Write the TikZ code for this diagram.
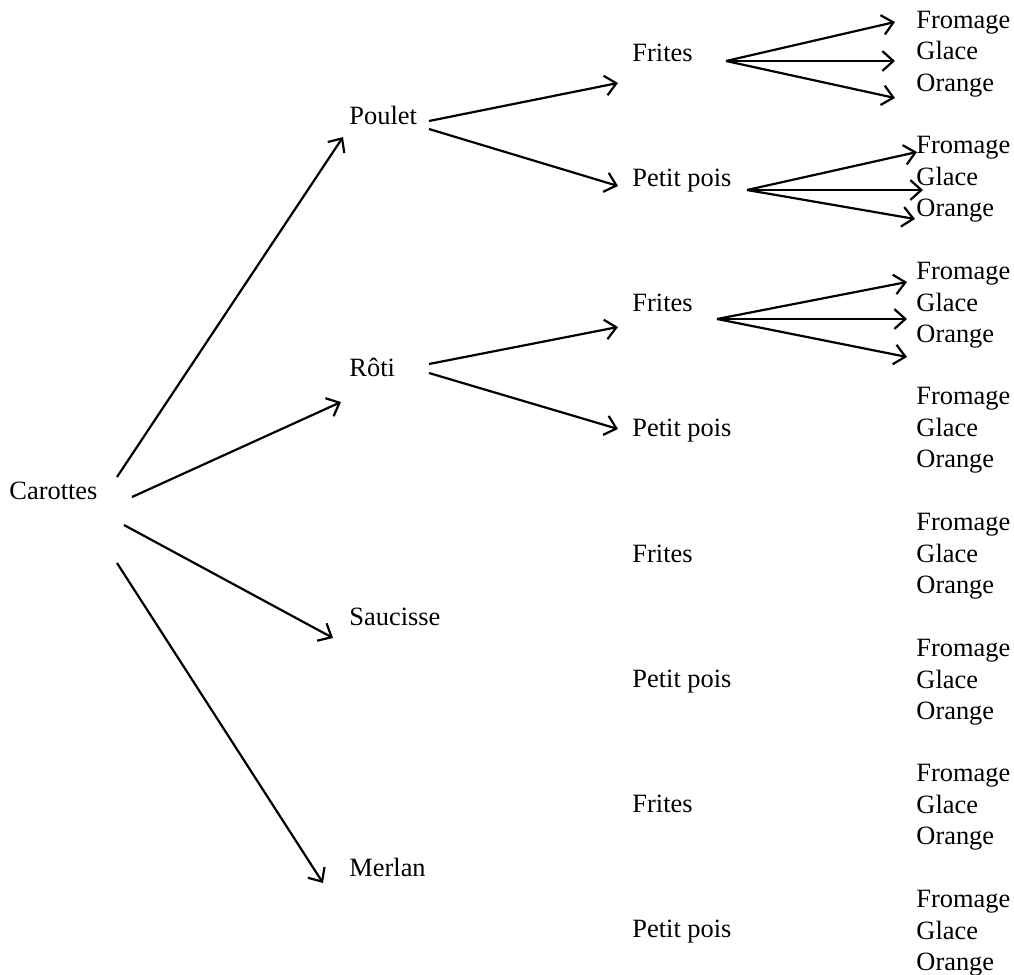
\documentclass[tikz,border=0pt]{standalone}
\usepackage{fontspec}
\setmainfont{Liberation Serif}
\usetikzlibrary{arrows.meta}
\tikzset{
	mot/.style={anchor=base west,inner sep=0pt,font=\fontsize{12}{14}\selectfont},
	fl/.style={-{Straight Barb[length=5pt,width=9pt]},line width=1pt}
}

\begin{document}
\begin{tikzpicture}[x=0.4545pt,y=-0.4545pt]
	\useasboundingbox (0,0) rectangle (1014,975);

	\node [mot] (carottes) at (9,499) {Carottes};
	\node [mot] (poulet) at (349,124) {Poulet};
	\node [mot] (roti) at (349,376) {Rôti};
	\node [mot] (saucisse) at (349,625) {Saucisse};
	\node [mot] (merlan) at (349,876) {Merlan};

	\foreach \k in {1,...,4} {
		\node [mot] (frites\k) at (632,{61+250.6*(\k-1)}) {Frites};
		\node [mot] (pois\k) at (632,{186+250.6*(\k-1)}) {Petit pois};
	}
	\foreach \k in {1,...,8} {
		\node [mot] (fromage\k) at (916,{28+125.6*(\k-1)}) {Fromage};
		\node [mot] (glace\k) at (916,{60+125.6*(\k-1)}) {Glace};
		\node [mot] (orange\k) at (916,{91+125.6*(\k-1)}) {Orange};
	}

	% fleches
	\foreach \nom/\xa/\ya/\xb/\yb in {
			cp/117/477/343/137, cr/132/497/341/402, cs/124/525/333/638, cm/117/563/323/883,
			pf/429/121/618/83, pp/429/129/618/186,
			rf/429/364/618/327, rp/429/373/618/429,
			fa/726/61/895/22, fb/726/61/895/61, fc/726/61/895/98,
			pa/747/190/917/152, pb/747/190/923/190, pc/747/190/915/219,
			ga/717/319/907/282, gb/717/319/907/319, gc/717/319/907/357} {
		\coordinate (\nom-s) at (\xa,\ya);
		\coordinate (\nom-e) at (\xb,\yb);
		\draw [fl] (\nom-s) -- (\nom-e);
	}
\end{tikzpicture}
\end{document}
